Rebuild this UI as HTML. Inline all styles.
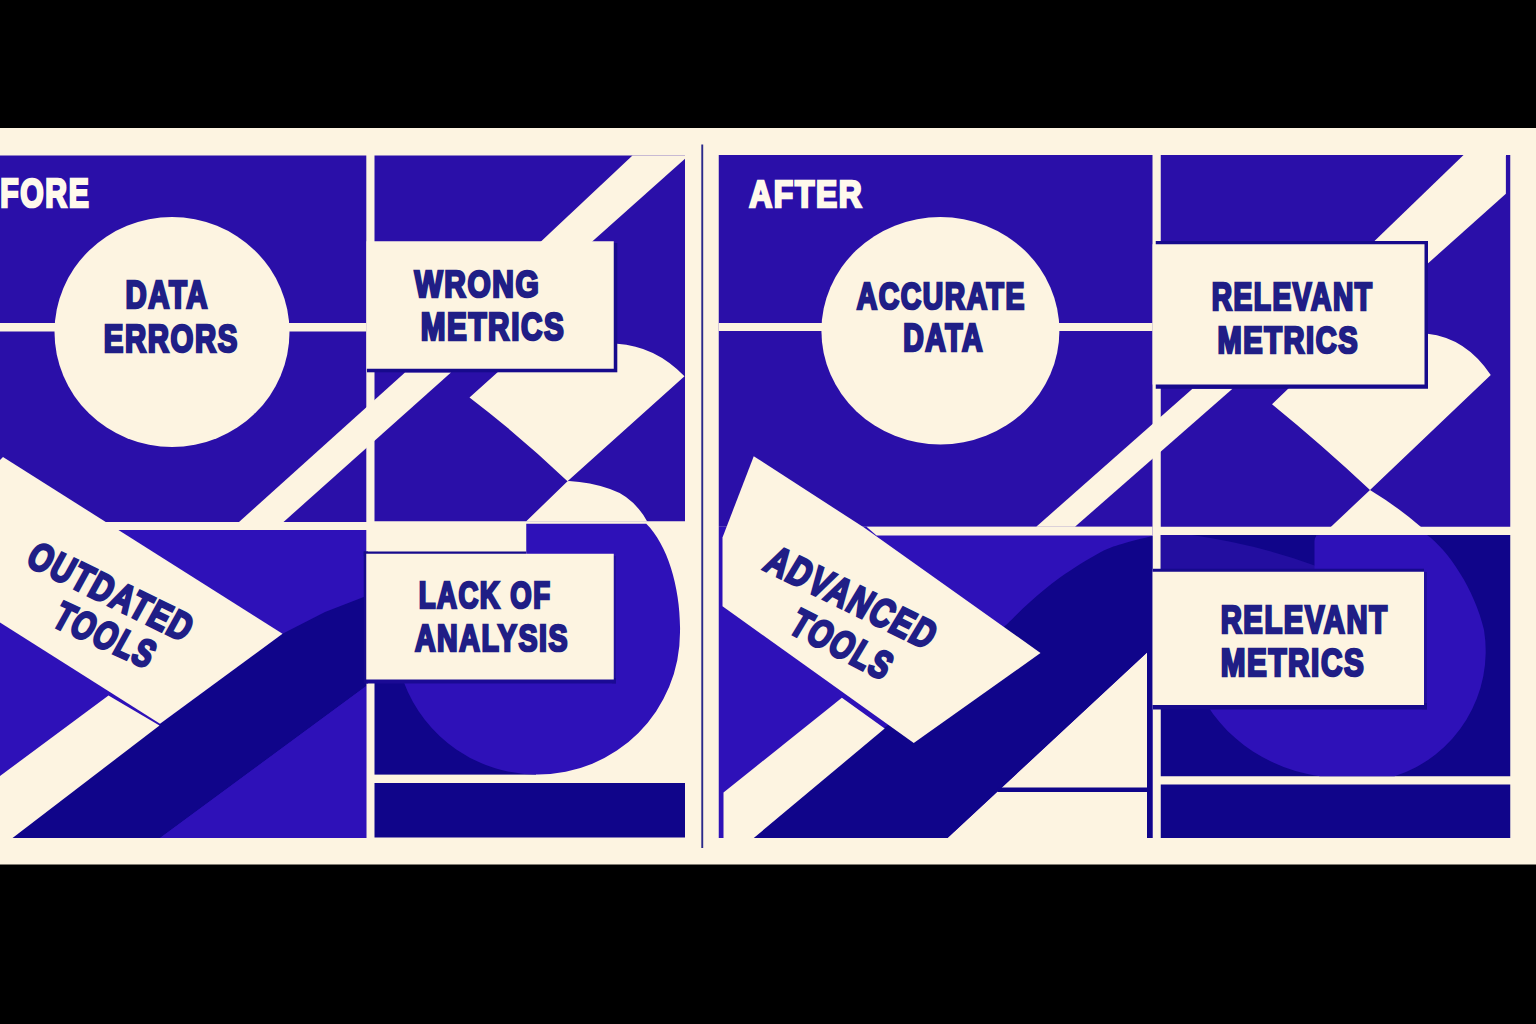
<!DOCTYPE html>
<html><head><meta charset="utf-8"><title>Before / After</title>
<style>html,body{margin:0;padding:0;background:#000;width:1536px;height:1024px;overflow:hidden}svg{display:block}</style></head>
<body>
<svg width="1536" height="1024" viewBox="0 0 1536 1024" font-family="'Liberation Sans', sans-serif" font-weight="700">
<rect x="0.00" y="0.00" width="1536.00" height="1024.00" fill="#000"/>
<rect x="0.00" y="128.00" width="1536.00" height="736.50" fill="#FDF4E1"/>
<rect x="0.00" y="155.50" width="366.30" height="366.50" fill="#2A0FA8"/>
<rect x="0.00" y="530.00" width="366.30" height="308.00" fill="#2E11B8"/>
<rect x="0.00" y="323.00" width="366.30" height="8.50" fill="#FDF4E1"/>
<ellipse cx="172" cy="332" rx="117.5" ry="115" fill="#FDF4E1"/>
<polygon points="12.50,838.00 160.00,724.00 282.50,633.75 325.00,612.00 366.30,596.00 366.30,686.00 160.00,838.00" fill="#10058A"/>
<polygon points="160.00,838.00 366.30,686.00 366.30,838.00" fill="#2E11B8"/>
<polygon points="108.50,695.50 159.50,725.50 12.50,838.00 0.00,838.00 0.00,776.00" fill="#FDF4E1"/>
<polygon points="0.00,460.00 3.00,457.00 282.50,633.75 160.00,723.75 0.00,622.50" fill="#FDF4E1"/>
<rect x="100.00" y="522.00" width="266.30" height="8.00" fill="#FDF4E1"/>
<rect x="374.50" y="155.50" width="310.50" height="365.75" fill="#2A0FA8"/>
<polygon points="632.50,155.50 685.00,155.50 685.00,158.75 588.00,245.30 536.70,245.50" fill="#FDF4E1"/>
<polygon points="239.00,522.00 405.00,372.50 451.00,372.50 283.50,522.00" fill="#FDF4E1"/>
<path d="M469.5,397.5 L499,371 L617,371 L617,343.75 Q655,346 684.5,376.25 L567.5,481.25 Q520,436 469.5,397.5 Z" fill="#FDF4E1"/>
<path d="M567.5,481.25 L526,521.5 L648,521.5 L647.5,522 Q634,497 610,489 Q590,482 569,481 Z" fill="#FDF4E1"/>
<rect x="374.50" y="683.00" width="161.50" height="91.60" fill="#10058A"/>
<path d="M526.25,523.75 L646.25,523.75 C668,545 681,590 680,632.5 A142,142 0 0 1 538,774.5 A142,142 0 0 1 403.75,682 L403.75,660 L526.25,660 Z" fill="#2E11B8"/>
<rect x="374.50" y="783.00" width="310.50" height="54.50" fill="#10058A"/>
<rect x="367.00" y="243.00" width="250.30" height="129.30" fill="#170A8C"/>
<rect x="366.50" y="241.25" width="247.25" height="127.50" fill="#FDF4E1"/>
<rect x="363.75" y="551.50" width="162.50" height="4.50" fill="#170A8C"/>
<rect x="363.75" y="551.50" width="4.25" height="132.00" fill="#170A8C"/>
<rect x="612.00" y="556.00" width="4.00" height="127.50" fill="#220E9E"/>
<rect x="366.25" y="678.00" width="249.75" height="5.50" fill="#1A0A94"/>
<rect x="366.25" y="553.75" width="247.50" height="125.75" fill="#FDF4E1"/>
<rect x="701.30" y="144.50" width="1.90" height="703.50" fill="#2B2A8A"/>
<rect x="718.75" y="155.00" width="433.75" height="371.75" fill="#2A0FA8"/>
<rect x="718.75" y="526.75" width="433.75" height="311.25" fill="#2E11B8"/>
<rect x="718.75" y="323.00" width="433.75" height="8.00" fill="#FDF4E1"/>
<ellipse cx="940.4" cy="330.75" rx="119" ry="113.75" fill="#FDF4E1"/>
<polygon points="866.50,526.75 1152.50,526.75 1152.50,535.50 876.50,535.50" fill="#FDF4E1"/>
<polygon points="947.50,838.00 1147.00,652.50 1147.00,838.00" fill="#FDF4E1"/>
<path d="M753.75,838 L885,727.5 L1000,630 L1007.5,623.75 C1011.25,620.12 1021.25,609.71 1030.00,602.00 C1038.75,594.29 1048.33,585.75 1060.00,577.50 C1071.67,569.25 1089.17,558.25 1100.00,552.50 C1110.83,546.75 1116.46,545.71 1125.00,543.00 C1133.54,540.29 1146.88,537.38 1151.25,536.25 L1152.5,536 L1152.5,838 L1147,838 L1147,652.5 L947.5,838 Z" fill="#10058A"/>
<rect x="997.50" y="787.50" width="149.50" height="4.50" fill="#10058A"/>
<polygon points="841.90,697.70 884.70,728.50 753.75,838.00 723.50,838.00 723.50,792.50" fill="#FDF4E1"/>
<polygon points="753.75,456.25 864.00,527.50 1040.50,653.00 913.75,743.00 722.50,606.25 722.50,537.50" fill="#FDF4E1"/>
<rect x="1160.75" y="155.00" width="349.50" height="371.75" fill="#2A0FA8"/>
<polygon points="1464.60,154.00 1505.90,154.00 1505.90,193.75 1420.00,270.50 1360.00,255.00" fill="#FDF4E1"/>
<rect x="1464.60" y="150.00" width="41.30" height="6.00" fill="#FDF4E1"/>
<polygon points="1036.25,526.75 1192.50,388.75 1232.50,388.75 1075.00,526.75" fill="#FDF4E1"/>
<path d="M1272,404.25 L1290,387 L1427.5,387 L1427.5,333.75 Q1466,338 1490.75,375 L1370,490 Q1322,445 1272,404.25 Z" fill="#FDF4E1"/>
<path d="M1370,490 L1330.75,527 L1421,527 Q1398,507 1370,490 Z" fill="#FDF4E1"/>
<rect x="1160.75" y="535.00" width="349.50" height="241.25" fill="#10058A"/>
<rect x="1160.75" y="535.00" width="159.25" height="65.00" fill="#230EA0"/>
<path d="M1192,535 L1316,535 L1316,566 Q1260,545 1192,535 Z" fill="#10058A"/>
<path d="M1314.5,541 Q1314.5,535 1320.5,535 L1427,535 C1448,550 1475,590 1484,630 A131.5,131.5 0 0 1 1394.5,776.25 L1320,776.25 C1275,770 1232,745 1207,705 L1207,680 L1314.5,680 Z" fill="#2E11B8"/>
<rect x="1160.75" y="784.50" width="349.50" height="53.50" fill="#10058A"/>
<rect x="1155.75" y="241.00" width="272.25" height="147.75" fill="#170A8C"/>
<rect x="1152.60" y="244.25" width="271.90" height="140.25" fill="#FDF4E1"/>
<rect x="1153.00" y="568.75" width="271.00" height="4.25" fill="#170A8C"/>
<rect x="1422.00" y="572.00" width="5.00" height="137.50" fill="#220E9E"/>
<rect x="1153.00" y="703.00" width="274.00" height="6.50" fill="#170A8C"/>
<rect x="1152.60" y="571.75" width="271.40" height="133.25" fill="#FDF4E1"/>
<text transform="matrix(0.13608,0.06637,-0.09558,0.17243,24.160,564.477)" font-size="200" fill="#201E86" stroke="#201E86" stroke-width="2.40" style="vector-effect:non-scaling-stroke" letter-spacing="11">OUTDATED</text>
<text transform="matrix(0.13181,0.06007,-0.09558,0.17243,50.174,624.948)" font-size="200" fill="#201E86" stroke="#201E86" stroke-width="2.40" style="vector-effect:non-scaling-stroke" letter-spacing="11">TOOLS</text>
<text transform="matrix(0.13774,0.06778,-0.10521,0.17511,761.695,569.001)" font-size="200" fill="#201E86" stroke="#201E86" stroke-width="2.40" style="vector-effect:non-scaling-stroke" letter-spacing="11">ADVANCED</text>
<text transform="matrix(0.13151,0.06701,-0.10154,0.16898,786.687,631.516)" font-size="200" fill="#201E86" stroke="#201E86" stroke-width="2.40" style="vector-effect:non-scaling-stroke" letter-spacing="11">TOOLS</text>
<text transform="translate(0.200,207.144) scale(0.15042,0.20317)" font-size="200" fill="#FFF9EC" stroke="#FFF9EC" stroke-width="2.40" style="vector-effect:non-scaling-stroke" letter-spacing="11">FORE</text>
<text transform="translate(749.200,206.800) scale(0.15837,0.18913)" font-size="200" fill="#FFF9EC" stroke="#FFF9EC" stroke-width="2.40" style="vector-effect:non-scaling-stroke" letter-spacing="11">AFTER</text>
<text transform="translate(125.450,308.300) scale(0.14687,0.19638)" font-size="200" fill="#201E86" stroke="#201E86" stroke-width="2.40" style="vector-effect:non-scaling-stroke" letter-spacing="11">DATA</text>
<text transform="translate(103.700,352.161) scale(0.14693,0.19437)" font-size="200" fill="#201E86" stroke="#201E86" stroke-width="2.40" style="vector-effect:non-scaling-stroke" letter-spacing="11">ERRORS</text>
<text transform="translate(414.450,297.179) scale(0.14928,0.18556)" font-size="200" fill="#201E86" stroke="#201E86" stroke-width="2.40" style="vector-effect:non-scaling-stroke" letter-spacing="11">WRONG</text>
<text transform="translate(420.700,340.418) scale(0.14814,0.19085)" font-size="200" fill="#201E86" stroke="#201E86" stroke-width="2.40" style="vector-effect:non-scaling-stroke" letter-spacing="11">METRICS</text>
<text transform="translate(418.700,608.429) scale(0.13754,0.18556)" font-size="200" fill="#201E86" stroke="#201E86" stroke-width="2.40" style="vector-effect:non-scaling-stroke" letter-spacing="11">LACK OF</text>
<text transform="translate(414.950,651.422) scale(0.14262,0.18908)" font-size="200" fill="#201E86" stroke="#201E86" stroke-width="2.40" style="vector-effect:non-scaling-stroke" letter-spacing="11">ANALYSIS</text>
<text transform="translate(856.700,308.922) scale(0.14155,0.18908)" font-size="200" fill="#201E86" stroke="#201E86" stroke-width="2.40" style="vector-effect:non-scaling-stroke" letter-spacing="11">ACCURATE</text>
<text transform="translate(903.200,351.300) scale(0.14195,0.19094)" font-size="200" fill="#201E86" stroke="#201E86" stroke-width="2.40" style="vector-effect:non-scaling-stroke" letter-spacing="11">DATA</text>
<text transform="translate(1211.700,310.050) scale(0.14066,0.19094)" font-size="200" fill="#201E86" stroke="#201E86" stroke-width="2.40" style="vector-effect:non-scaling-stroke" letter-spacing="11">RELEVANT</text>
<text transform="translate(1217.450,352.925) scale(0.14503,0.18732)" font-size="200" fill="#201E86" stroke="#201E86" stroke-width="2.40" style="vector-effect:non-scaling-stroke" letter-spacing="11">METRICS</text>
<text transform="translate(1220.700,632.550) scale(0.14592,0.19457)" font-size="200" fill="#201E86" stroke="#201E86" stroke-width="2.40" style="vector-effect:non-scaling-stroke" letter-spacing="11">RELEVANT</text>
<text transform="translate(1220.700,676.411) scale(0.14814,0.19437)" font-size="200" fill="#201E86" stroke="#201E86" stroke-width="2.40" style="vector-effect:non-scaling-stroke" letter-spacing="11">METRICS</text>
</svg>
</body></html>
